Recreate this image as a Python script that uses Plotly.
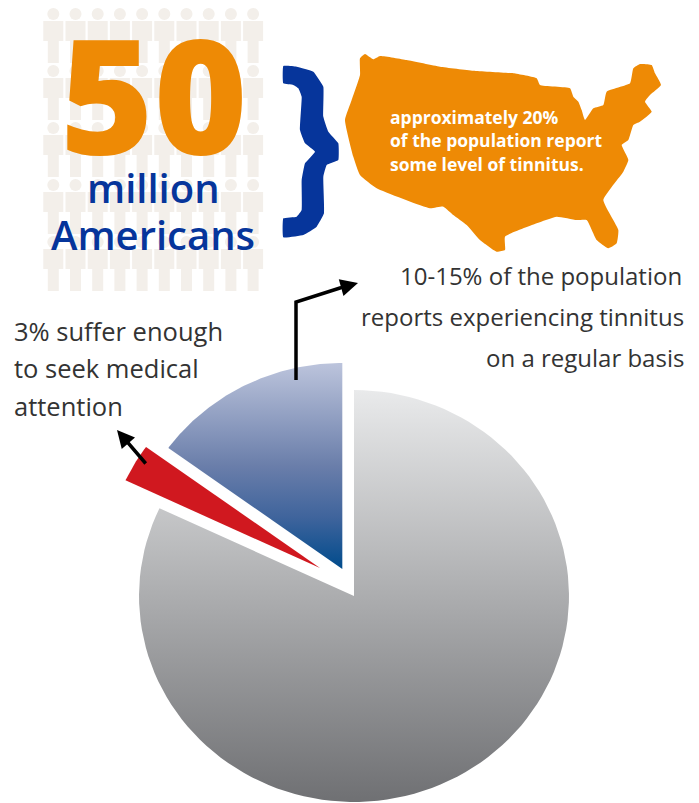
import numpy as np
import plotly.graph_objects as go

# Tinnitus prevalence shares, percent of the population
slice_names = ["No regular tinnitus", "Seek medical attention", "Regular tinnitus"]
slice_values = [82, 3, 15]

headline_number = "50"
headline_lines = ["million", "Americans"]
map_lines = ["approximately 20%", "of the population report", "some level of tinnitus."]
right_lines = ["10-15% of the population", "reports experiencing tinnitus", "on a regular basis"]
left_lines = ["3% suffer enough", "to seek medical", "attention"]

people_columns = 10
people_rows = 5

ORANGE = "#ee8a05"
NAVY = "#06359b"
PEOPLE = "#f3efea"
INK = "#333333"

# Pie geometry in page pixels; the wedges are pulled apart individually
RX, RY = 215, 206
APEX = [(354, 596), (320, 568), (342.3, 569)]
GRADIENTS = [
    [[0, "#e9eaeb"], [1, "#6f7073"]],
    [[0, "#d0181f"], [1, "#d0181f"]],
    [[0, "#bcc4dc"], [0.5, "#6a7eaa"], [0.75, "#3f649c"], [1, "#004b8c"]],
]
# Outlines in third-of-a-pixel units
MAP_OUTLINE = [(60,55),(75,42),(100,58),(120,48),(200,60),(300,80),(400,92),(520,100),(590,115),(600,135),
               (690,145),(700,170),(715,185),(725,210),(735,240),(760,205),(790,195),(800,155),(870,130),
               (880,85),(900,72),(935,75),(945,100),(963,135),(930,165),(915,185),(935,215),(900,245),
               (880,255),(865,300),(845,315),(865,360),(850,395),(790,480),(835,570),(830,610),(805,625),
               (770,600),(740,540),(710,540),(650,530),(590,550),(495,590),(495,630),(470,635),(420,600),
               (380,555),(340,525),(310,500),(270,505),(110,445),(60,405),(40,350),(15,240),(35,180),
               (60,105),(60,55)]
BRACE_OUTLINE = [(760,198),(800,200),(850,215),(880,260),(880,350),(895,395),(925,430),(925,480),(890,495),
                 (880,530),(882,640),(860,680),(820,705),(760,712),(760,655),(800,650),(815,630),(815,540),
                 (825,490),(855,455),(825,430),(810,390),(815,290),(805,265),(790,255),(760,250),(760,198)]

fig = go.Figure()

# Background pictogram: head circle, shoulder block and legs for each figure
shapes = []
for row in range(people_rows):
    for col in range(people_columns):
        cx, top = 53.3 + 22.2 * col, 8 + 57 * row
        shapes.append(dict(type="circle", x0=cx - 6, x1=cx + 6, y0=top, y1=top + 12,
                           fillcolor=PEOPLE, line=dict(width=0), layer="below"))
        body = (f"M{cx-10},{top+13} L{cx+10},{top+13} L{cx+10},{top+33} L{cx+5.5},{top+33} "
                f"L{cx+5.5},{top+55} L{cx-5.5},{top+55} L{cx-5.5},{top+33} L{cx-10},{top+33} Z")
        shapes.append(dict(type="path", path=body, fillcolor=PEOPLE, line=dict(width=0), layer="below"))

# Pie wedges: angles come from the shares, measured clockwise from twelve o'clock
edges = np.cumsum([0] + slice_values) / sum(slice_values) * 2 * np.pi
for i, name in enumerate(slice_names):
    theta = np.linspace(edges[i], edges[i + 1], 120)
    ax, ay = APEX[i]
    xs = np.concatenate([[ax], ax + RX * np.sin(theta), [ax]])
    ys = np.concatenate([[ay], ay - RY * np.cos(theta), [ay]])
    fig.add_trace(go.Scatter(x=xs, y=ys, mode="lines", line=dict(width=0), name=name,
                             fill="toself",
                             fillgradient=dict(type="vertical", colorscale=GRADIENTS[i],
                                               start=float(ys.min()), stop=float(ys.max()))))

# Map and brace silhouettes
fig.add_trace(go.Scatter(x=[340 + p[0] / 3 for p in MAP_OUTLINE], y=[40 + p[1] / 3 for p in MAP_OUTLINE],
                         mode="lines", line=dict(width=0, color=ORANGE, shape="spline", smoothing=0.4),
                         fill="toself", fillcolor=ORANGE))
fig.add_trace(go.Scatter(x=[30 + p[0] / 3 for p in BRACE_OUTLINE], y=[p[1] / 3 for p in BRACE_OUTLINE],
                         mode="lines", line=dict(width=0, color=NAVY, shape="spline", smoothing=0.3),
                         fill="toself", fillcolor=NAVY))

# Elbow of the leader running from the blue wedge
fig.add_trace(go.Scatter(x=[296, 296, 340], y=[380, 302, 288], mode="lines",
                         line=dict(color="black", width=3.5)))

annotations = []


def text(x, y, s, size, color, family, anchor="left", weight=None):
    annotations.append(dict(x=x, y=y, text=s, showarrow=False, xanchor=anchor, yanchor="middle",
                            xref="x", yref="y", align=anchor,
                            font=dict(size=size, color=color, family=family, weight=weight)))


text(154, 92, headline_number, 160, ORANGE, "Open Sans", "center", 800)
text(153, 187, headline_lines[0], 40, NAVY, "Open Sans", "center", 600)
text(153, 234, headline_lines[1], 40, NAVY, "Open Sans", "center", 600)

for s, y in zip(map_lines, [117, 140, 164]):
    text(388, y, s, 17.5, "white", "Open Sans", "left", 700)
for s, y, x in zip(right_lines, [275, 316, 357], [684, 686, 686]):
    text(x, y, s, 24, INK, "Open Sans", "right")
for s, y in zip(left_lines, [331, 368, 406]):
    text(12, y, s, 25.5, INK, "Open Sans", "left")

for x0, y0, x1, y1 in [(338, 288.5, 358, 283), (147, 465, 117, 430)]:
    annotations.append(dict(x=x1, y=y1, ax=x0, ay=y0, xref="x", yref="y", axref="x", ayref="y", text="",
                            showarrow=True, arrowhead=2, arrowsize=1, arrowwidth=3.5, arrowcolor="black",
                            standoff=0, startstandoff=0))

fig.update_layout(width=699, height=803, margin=dict(l=0, r=0, t=0, b=0), showlegend=False,
                  paper_bgcolor="white", plot_bgcolor="white", shapes=shapes, annotations=annotations,
                  xaxis=dict(range=[0, 699], visible=False, fixedrange=True),
                  yaxis=dict(range=[803, 0], visible=False, fixedrange=True))
fig.write_html("out.html", config=dict(displayModeBar=False))
